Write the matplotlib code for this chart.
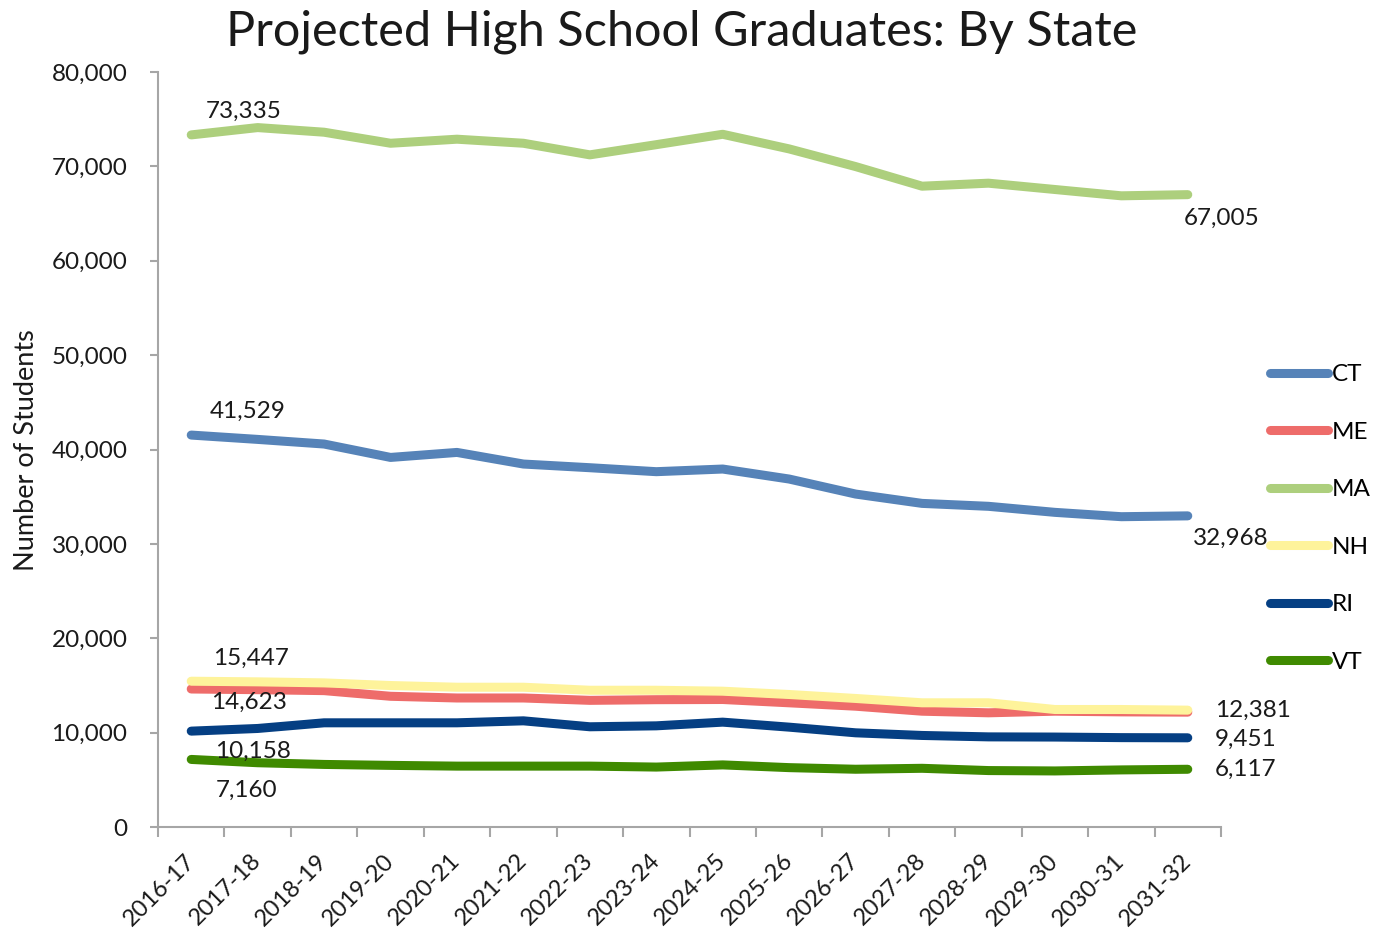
import matplotlib
matplotlib.use("Agg")
import matplotlib.pyplot as plt
from matplotlib.ticker import FuncFormatter, FixedLocator

plt.rcParams['font.family'] = ['Lato', 'DejaVu Sans']

years = ["2016-17", "2017-18", "2018-19", "2019-20", "2020-21", "2021-22", "2022-23", "2023-24",
         "2024-25", "2025-26", "2026-27", "2027-28", "2028-29", "2029-30", "2030-31", "2031-32"]

CT = [41529, 41070, 40580, 39160, 39690, 38460, 38070, 37650,
      37930, 36870, 35280, 34290, 33980, 33340, 32880, 32968]
ME = [14623, 14550, 14450, 13850, 13670, 13670, 13420, 13490,
      13510, 13160, 12800, 12270, 12100, 12270, 12200, 12170]
MA = [73335, 74110, 73620, 72450, 72880, 72450, 71220, 72300,
      73400, 71850, 69980, 67900, 68220, 67550, 66880, 67005]
NH = [15447, 15380, 15270, 14990, 14810, 14810, 14490, 14490,
      14390, 14040, 13620, 13160, 13160, 12450, 12450, 12381]
RI = [10158, 10440, 11040, 11040, 11040, 11250, 10620, 10720,
      11110, 10580, 9980, 9700, 9550, 9530, 9470, 9451]
VT = [7160, 6810, 6630, 6530, 6450, 6450, 6450, 6350,
      6580, 6290, 6120, 6220, 5980, 5940, 6050, 6117]

series = [("CT", CT, "#5683B8"), ("ME", ME, "#EE6C6A"), ("MA", MA, "#ADCF7D"),
          ("NH", NH, "#FEF39B"), ("RI", RI, "#053F83"), ("VT", VT, "#3F8A00")]

# label offsets in pixels (dx, dy) for first and last points
first_off = {"CT": (19, 24), "ME": (20, -13), "MA": (15, 24), "NH": (22, 23), "RI": (24, -20), "VT": (25, -31)}
last_off = {"CT": (5, -22), "MA": (-4, -24), "NH": (27, 0), "RI": (27, -2), "VT": (27, 0)}

FS = 17.5
W, H = 1379, 934
fig = plt.figure(figsize=(W / 100, H / 100), dpi=100)
ax = fig.add_axes([158 / W, 1 - 827 / H, (1221 - 158) / W, (827 - 72) / H])

x = list(range(len(years)))
lines = []
for name, vals, col in series:
    ln, = ax.plot(x, vals, color=col, lw=6.5, solid_capstyle='round', solid_joinstyle='round', label=name)
    lines.append(ln)
    px2pt = 0.72
    dx, dy = first_off[name]
    ax.annotate(f"{vals[0]:,}", xy=(x[0], vals[0]), xytext=(dx * px2pt, dy * px2pt),
                textcoords='offset points', ha='left', va='center', fontsize=FS, color='#1a1a1a')
    if name in last_off:
        dx, dy = last_off[name]
        ax.annotate(f"{vals[-1]:,}", xy=(x[-1], vals[-1]), xytext=(dx * px2pt, dy * px2pt),
                    textcoords='offset points', ha='left', va='center', fontsize=FS, color='#1a1a1a')

ax.set_xlim(-0.5, len(years) - 0.5)
ax.set_ylim(0, 80000)
ax.set_yticks(range(0, 80001, 10000))
ax.yaxis.set_major_formatter(FuncFormatter(lambda v, p: f"{int(v):,}"))
ax.tick_params(axis='y', labelsize=FS, length=6, width=1.5, color='#A6A6A6', pad=16, labelcolor='#1a1a1a')

ax.set_xticks(x)
ax.set_xticklabels(years, rotation=45, ha='right', va='center', rotation_mode='anchor', fontsize=17, color='#1a1a1a')
ax.tick_params(axis='x', which='major', length=0, pad=22)
ax.xaxis.set_minor_locator(FixedLocator([i - 0.5 for i in range(len(years) + 1)]))
ax.tick_params(axis='x', which='minor', length=7, width=1.5, color='#A6A6A6')

for s in ['top', 'right']:
    ax.spines[s].set_visible(False)
for s in ['left', 'bottom']:
    ax.spines[s].set_color('#A6A6A6')
    ax.spines[s].set_linewidth(1.5)

ax.set_ylabel("Number of Students", fontsize=19.5, color='#1a1a1a')
ax.yaxis.set_label_coords(39 / W, 1 - 450 / H, transform=fig.transFigure)

fig.text(682 / W, 1 - 32 / H, "Projected High School Graduates: By State", ha='center', va='center',
         fontsize=35, color='#1a1a1a')

fig.legend(handles=lines, loc='center left', bbox_to_anchor=(1270 / W, 1 - 518.5 / H),
           frameon=False, fontsize=FS, handlelength=2.4, handletextpad=0.15, labelspacing=1.5,
           borderpad=0, borderaxespad=0)

fig.savefig("out.png", dpi=100)
